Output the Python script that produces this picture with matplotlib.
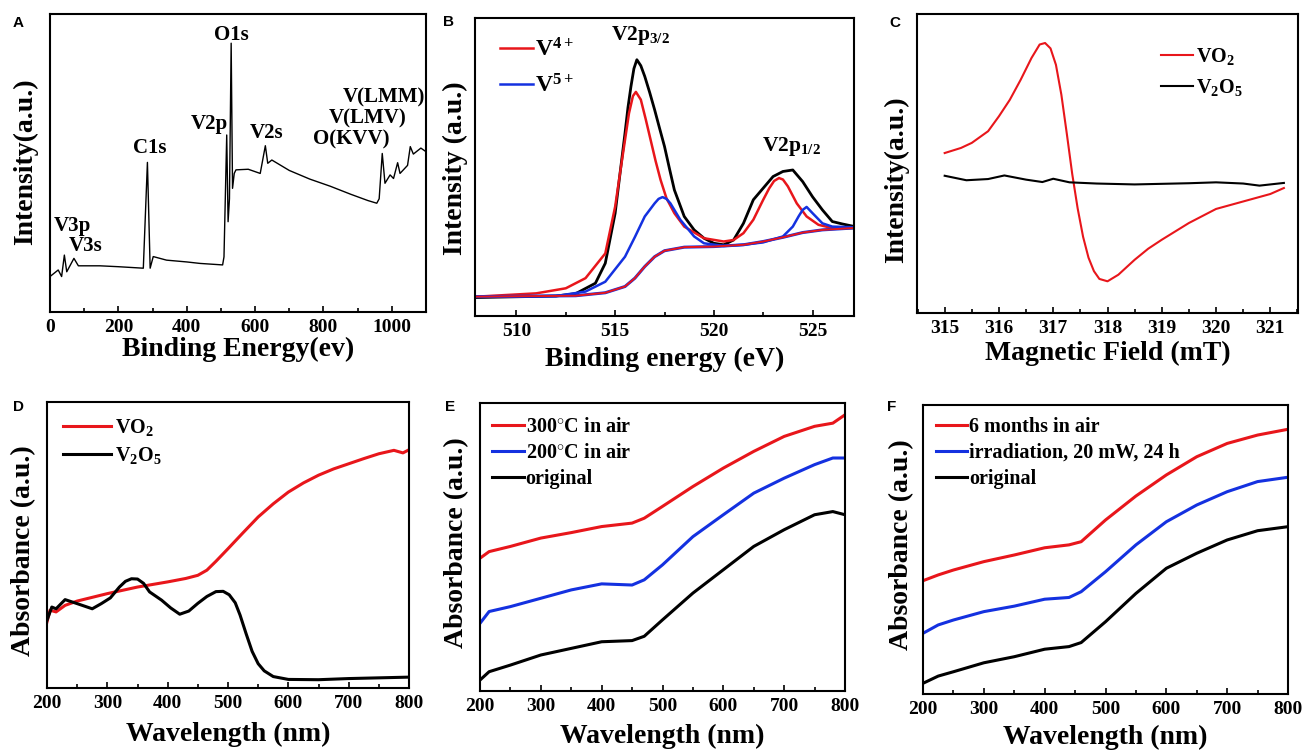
import matplotlib
matplotlib.use("Agg")
import matplotlib.pyplot as plt
from matplotlib.ticker import MultipleLocator

plt.rcParams['font.family'] = ['Liberation Serif', 'DejaVu Serif']
plt.rcParams['font.weight'] = 'bold'
plt.rcParams['mathtext.fontset'] = 'custom'
plt.rcParams['mathtext.rm'] = 'Liberation Serif:bold'
plt.rcParams['mathtext.it'] = 'Liberation Serif:bold'
plt.rcParams['mathtext.bf'] = 'Liberation Serif:bold'

# --- A: XPS survey ---
survey_x = [0, 24, 34, 42, 49, 70, 83, 146, 200, 273, 285, 293, 302, 341, 400, 439, 505, 509, 517,
            521, 525, 530, 534, 539, 544, 580, 615, 630, 637, 649, 700, 760, 820, 880, 930, 956, 963,
            972, 980, 995, 1005, 1017, 1024, 1046, 1054, 1063, 1085, 1100]
survey_y = [11.9, 14.1, 11.9, 19.1, 13.5, 18.0, 15.5, 15.5, 15.2, 14.7, 50.2, 14.7, 18.6, 17.4, 16.8,
            16.3, 15.8, 18.5, 59.4, 30.3, 38.0, 90.2, 41.5, 46.5, 47.7, 47.9, 46.5, 55.8, 49.9, 51.0,
            47.5, 44.6, 42.2, 39.5, 37.4, 36.5, 38.0, 53.2, 43.2, 46.0, 44.8, 50.1, 46.5, 49.2, 55.5,
            53.0, 55.0, 53.8]

# --- B: V2p high resolution ---
v2p_x = [508, 512, 513, 514, 514.5, 515, 515.25, 515.5, 515.65, 515.8, 515.95, 516.1, 516.3, 516.5,
         516.75, 517, 517.25, 517.5, 517.75, 518, 518.5, 519, 519.5, 520, 520.5, 521, 521.5, 522,
         522.5, 523, 523.5, 524, 524.5, 525, 525.5, 526, 526.5, 527]
v2p_y = [6.2, 6.7, 7.5, 11.0, 17.7, 34.5, 48.0, 61.4, 70.0, 77.0, 83.0, 86.0, 84.0, 80.4,
         75.0, 69.2, 63.0, 56.9, 49.5, 42.3, 33.4, 28.9, 26.1, 24.4, 23.9, 25.5, 31.1, 39.0,
         42.9, 46.8, 48.5, 49.0, 45.1, 40.0, 35.6, 31.7, 30.9, 30.2]
v4_x = [508, 511, 512.5, 513.5, 514.5, 515, 515.25, 515.5, 515.7, 515.9, 516.05, 516.3, 516.55,
        516.8, 517.05, 517.3, 517.6, 518, 518.5, 519.5, 520.5, 521, 521.5, 522, 522.5, 522.8, 523.05,
        523.3, 523.5, 523.75, 524.2, 524.7, 525.3, 526, 527]
v4_y = [6.5, 7.6, 9.3, 12.7, 21.0, 36.7, 48.0, 59.1, 68.0, 73.8, 75.2, 72.6, 66.0,
        59.0, 52.0, 45.7, 39.5, 34.5, 30.0, 26.1, 25.0, 25.5, 27.8, 32.3, 39.0, 42.8, 45.3,
        46.3, 45.8, 43.5, 37.8, 33.4, 30.6, 29.5, 29.5]
v5_x = [508, 512, 513.5, 514.5, 515.5, 516, 516.5, 517, 517.2, 517.4, 517.6, 517.8, 518.3, 519,
        519.5, 520.5, 521.5, 522.5, 523.5, 524, 524.3, 524.5, 524.7, 525, 525.5, 526, 527]
v5_y = [6.5, 6.7, 8.2, 11.5, 19.9, 26.5, 33.4, 37.8, 39.3, 39.9, 39.3, 37.8, 32.3, 26.7,
        24.4, 23.5, 23.9, 24.7, 26.7, 30.0, 33.5, 35.6, 36.6, 34.5, 31.1, 30.0, 29.8]
bg_x = [508, 513, 514.5, 515.5, 516, 516.5, 517, 517.5, 518.5, 520, 521.5, 522.5, 523.5, 524.5, 525.5, 527]
bg_y = [6.5, 6.8, 7.8, 9.9, 12.7, 16.6, 19.9, 21.9, 23.1, 23.3, 23.9, 25.0, 26.4, 28.0, 28.9, 29.5]

# --- C: EPR ---
epr_vo2_x = [315.0, 315.3, 315.5, 315.8, 316.0, 316.2, 316.4, 316.6, 316.75, 316.85, 316.95, 317.05,
             317.15, 317.25, 317.35, 317.45, 317.55, 317.65, 317.75, 317.85, 318.0, 318.2, 318.5,
             318.75, 319.0, 319.5, 320.0, 320.5, 321.0, 321.25]
epr_vo2_y = [53.5, 55.2, 56.9, 60.8, 65.8, 71.3, 78.0, 85.3, 89.8, 90.3, 88.5, 83.0,
             73.0, 60.0, 46.5, 35.0, 25.5, 18.5, 14.0, 11.4, 10.6, 12.8, 17.8,
             21.5, 24.5, 30.1, 34.8, 37.3, 39.8, 41.8]
epr_v2o5_x = [315.0, 315.4, 315.8, 316.1, 316.5, 316.8, 317.0, 317.3, 317.8, 318.5, 319.5, 320.0,
              320.5, 320.8, 321.25]
epr_v2o5_y = [45.9, 44.4, 44.8, 46.0, 44.6, 43.8, 44.9, 43.7, 43.3, 43.0, 43.4, 43.7, 43.3, 42.6, 43.5]

# --- D: UV-vis VO2 vs V2O5 ---
uv_vo2_x = [200, 205, 215, 230, 250, 300, 350, 400, 430, 450, 465, 480, 500, 525, 550, 575, 600,
            625, 650, 675, 700, 725, 750, 775, 790, 800]
uv_vo2_y = [23.1, 27.2, 26.6, 28.9, 30.4, 33.0, 35.3, 37.1, 38.3, 39.4, 41.2, 44.3, 48.7, 54.3,
            59.8, 64.4, 68.5, 71.7, 74.4, 76.6, 78.4, 80.2, 81.9, 83.1, 82.2, 83.3]
uv_v2o5_x = [200, 208, 215, 230, 250, 275, 290, 305, 320, 330, 340, 350, 360, 370, 390, 405, 420,
             435, 450, 465, 480, 492, 502, 512, 520, 530, 540, 550, 560, 575, 600, 650, 700, 800]
uv_v2o5_y = [23.7, 28.3, 27.7, 30.9, 29.5, 27.7, 29.5, 31.5, 35.3, 37.3, 38.2, 38.1, 36.6, 33.6,
             30.7, 28.0, 25.8, 26.9, 29.6, 32.0, 33.7, 33.8, 32.6, 29.8, 25.5, 19.0, 12.8, 8.5,
             6.0, 4.0, 3.0, 2.9, 3.3, 3.8]

# --- E: heat treatment ---
wl_e = [200, 215, 250, 300, 350, 400, 450, 470, 500, 550, 600, 650, 700, 750, 780, 800]
e_300 = [46.1, 48.4, 50.2, 53.1, 55.0, 57.1, 58.3, 60.0, 64.1, 71.0, 77.4, 83.2, 88.4, 91.9, 93.0, 95.9]
e_200 = [23.5, 27.6, 29.3, 32.2, 35.1, 37.2, 36.8, 38.6, 43.8, 53.6, 61.2, 68.7, 73.9, 78.6, 80.9, 80.9]
e_orig = [3.8, 6.7, 9.0, 12.5, 14.8, 17.1, 17.5, 19.0, 24.7, 34.0, 42.1, 50.2, 56.0, 61.2, 62.3, 61.2]

# --- F: stability ---
wl_f = [200, 225, 250, 300, 350, 400, 440, 460, 500, 550, 600, 650, 700, 750, 800]
f_6m = [39.2, 41.2, 42.9, 45.8, 48.1, 50.6, 51.6, 52.7, 60.2, 68.5, 75.8, 82.1, 86.7, 89.6, 91.6]
f_irr = [21.0, 23.9, 25.6, 28.5, 30.4, 32.8, 33.4, 35.4, 42.3, 51.6, 59.6, 65.4, 70.0, 73.5, 75.0]
f_orig = [3.7, 6.2, 7.7, 10.8, 12.9, 15.5, 16.4, 17.8, 25.0, 34.8, 43.5, 48.7, 53.3, 56.5, 57.9]

RED = '#e8161b'
BLUE = '#1431e0'

W, H = 1306, 751
fig = plt.figure(figsize=(W / 100, H / 100), dpi=100)


def make_ax(box, xlabel, ylabel, xl_base, yl_center):
    # box in pixels: left, top, right, bottom; label positions in pixels too
    x0, y0, x1, y1 = box
    ax = fig.add_axes([x0 / W, 1 - y1 / H, (x1 - x0) / W, (y1 - y0) / H])
    ax.set_ylim(0, 100)
    ax.set_yticks([])
    for s in ax.spines.values():
        s.set_linewidth(1.5)
    ax.tick_params(axis='x', which='both', direction='in', labelsize=14, width=1.2)
    ax.tick_params(axis='x', which='major', length=4, pad=5)
    ax.tick_params(axis='x', which='minor', length=3)
    ax.set_xlabel(xlabel, fontsize=20, fontweight='bold', va='baseline')
    ax.xaxis.set_label_coords(0.5, (y1 - xl_base) / (y1 - y0))
    ax.set_ylabel(ylabel, fontsize=20, fontweight='bold', va='center')
    ax.yaxis.set_label_coords((yl_center[0] - x0) / (x1 - x0), (y1 - yl_center[1]) / (y1 - y0))
    return ax


def letter(x, y, s):
    fig.text(x / W, 1 - y / H, s, family='Liberation Sans', weight='bold', fontsize=11,
             ha='center', va='center')


# A
ax = make_ax((50, 14, 426, 312), 'Binding Energy(ev)', 'Intensity(a.u.)', 356, (26, 162))
ax.plot(survey_x, survey_y, color='black', lw=1.0)
ax.set_xlim(0, 1100)
ax.xaxis.set_major_locator(MultipleLocator(200))
ax.xaxis.set_minor_locator(MultipleLocator(100))
tk = dict(fontsize=15, ha='center', va='center')
ax.text(532, 93, 'O1s', **tk)
ax.text(467, 63, 'V2p', **tk)
ax.text(293, 55, 'C1s', **tk)
ax.text(635, 60, 'V2s', **tk)
ax.text(978, 72, 'V(LMM)', **tk)
ax.text(930, 65, 'V(LMV)', **tk)
ax.text(880, 58, 'O(KVV)', **tk)
ax.text(65, 29, 'V3p', **tk)
ax.text(103, 22, 'V3s', **tk)
letter(18, 23, 'A')

# B
ax = make_ax((475, 18, 854, 316), 'Binding energy (eV)', 'Intensity (a.u.)', 366, (455, 168))
ax.plot(v2p_x, v2p_y, color='black', lw=2.0)
ax.plot(v4_x, v4_y, color=RED, lw=1.8, label='V$^{4+}$')
ax.plot(v5_x, v5_y, color=BLUE, lw=1.8, label='V$^{5+}$')
ax.plot(bg_x, bg_y, color=BLUE, lw=2.2)
ax.plot(bg_x, bg_y, color=RED, lw=1.4)
ax.set_xlim(507.9, 527.1)
ax.xaxis.set_major_locator(MultipleLocator(5))
ax.xaxis.set_minor_locator(MultipleLocator(2.5))
ax.legend(loc='upper left', bbox_to_anchor=(0.04, 0.965), frameon=False, fontsize=17,
          handlelength=1.4, handletextpad=0.1, labelspacing=0.55, borderaxespad=0)
ax.text(516.3, 94, 'V2p$_{3/2}$', fontsize=15.5, ha='center', va='center')
ax.text(523.95, 57, 'V2p$_{1/2}$', fontsize=15.5, ha='center', va='center')
letter(448, 22, 'B')

# C
ax = make_ax((917, 14, 1298, 313), 'Magnetic Field (mT)', 'Intensity(a.u.)', 360, (897, 180))
ax.plot(epr_vo2_x, epr_vo2_y, color=RED, lw=1.5, label='VO$_2$')
ax.plot(epr_v2o5_x, epr_v2o5_y, color='black', lw=1.5, label='V$_2$O$_5$')
ax.set_xlim(314.49, 321.51)
ax.xaxis.set_major_locator(MultipleLocator(1))
ax.xaxis.set_minor_locator(MultipleLocator(0.5))
ax.legend(loc='upper left', bbox_to_anchor=(0.62, 0.92), frameon=False, fontsize=14.5,
          handlelength=1.6, handletextpad=0.1, labelspacing=0.5, borderaxespad=0)
letter(895, 23, 'C')

# D
ax = make_ax((47, 402, 409, 688), 'Wavelength (nm)', 'Absorbance (a.u.)', 741, (24, 551))
ax.plot(uv_vo2_x, uv_vo2_y, color=RED, lw=2.2, label='VO$_2$')
ax.plot(uv_v2o5_x, uv_v2o5_y, color='black', lw=2.2, label='V$_2$O$_5$')
ax.set_xlim(200, 800)
ax.xaxis.set_major_locator(MultipleLocator(100))
ax.xaxis.set_minor_locator(MultipleLocator(50))
ax.legend(loc='upper left', bbox_to_anchor=(0.021, 0.977), frameon=False, fontsize=14.5,
          handlelength=2.4, handletextpad=0.2, labelspacing=0.35, borderaxespad=0)
letter(18, 407, 'D')

# E
ax = make_ax((480, 403, 845, 691), 'Wavelength (nm)', 'Absorbance (a.u.)', 743, (457, 543))
ax.plot(wl_e, e_300, color=RED, lw=2.2, label='300$^{\\circ}$C in air')
ax.plot(wl_e, e_200, color=BLUE, lw=2.2, label='200$^{\\circ}$C in air')
ax.plot(wl_e, e_orig, color='black', lw=2.2, label='original')
ax.set_xlim(200, 800)
ax.xaxis.set_major_locator(MultipleLocator(100))
ax.xaxis.set_minor_locator(MultipleLocator(50))
ax.legend(loc='upper left', bbox_to_anchor=(0.012, 0.98), frameon=False, fontsize=14.5,
          handlelength=1.55, handletextpad=0.1, labelspacing=0.3, borderaxespad=0)
letter(450, 407, 'E')

# F
ax = make_ax((923, 405, 1288, 694), 'Wavelength (nm)', 'Absorbance (a.u.)', 744, (902, 545))
ax.plot(wl_f, f_6m, color=RED, lw=2.2, label='6 months in air')
ax.plot(wl_f, f_irr, color=BLUE, lw=2.2, label='irradiation, 20 mW, 24 h')
ax.plot(wl_f, f_orig, color='black', lw=2.2, label='original')
ax.set_xlim(200, 800)
ax.xaxis.set_major_locator(MultipleLocator(100))
ax.xaxis.set_minor_locator(MultipleLocator(50))
ax.legend(loc='upper left', bbox_to_anchor=(0.014, 0.987), frameon=False, fontsize=14.5,
          handlelength=1.55, handletextpad=0.1, labelspacing=0.3, borderaxespad=0)
letter(892, 407, 'F')

fig.savefig('out.png', dpi=100)
